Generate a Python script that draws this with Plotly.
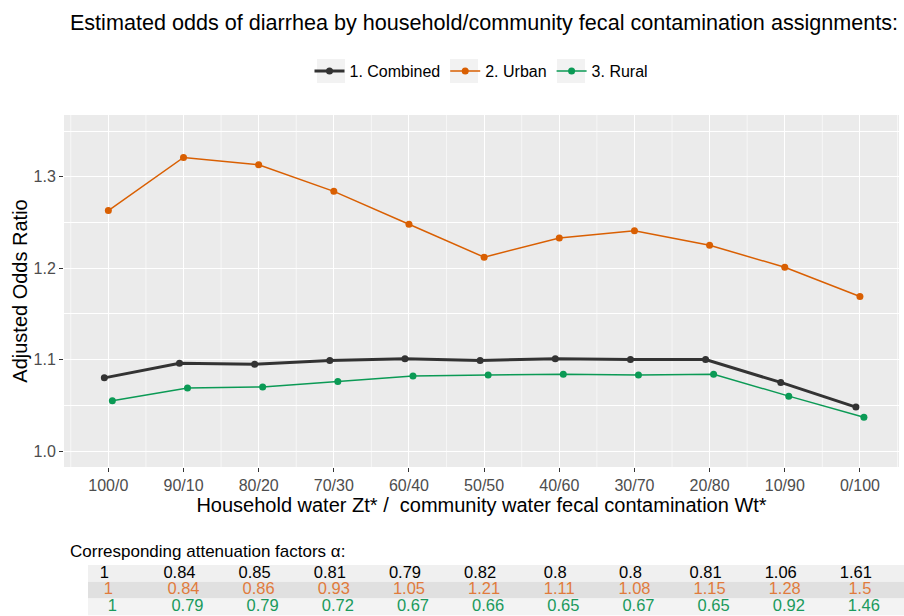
import plotly.graph_objects as go

# x categories: household / community split
SPLITS = ["100/0", "90/10", "80/20", "70/30", "60/40", "50/50",
          "40/60", "30/70", "20/80", "10/90", "0/100"]

# adjusted odds ratios
OR_COMBINED = [1.080, 1.096, 1.095, 1.099, 1.101, 1.099, 1.101, 1.100, 1.100, 1.075, 1.048]
OR_URBAN = [1.263, 1.321, 1.313, 1.284, 1.248, 1.212, 1.233, 1.241, 1.225, 1.201, 1.169]
OR_RURAL = [1.055, 1.069, 1.070, 1.076, 1.082, 1.083, 1.084, 1.083, 1.084, 1.060, 1.037]

# attenuation factors (table under the chart)
ALPHA_COMBINED = ["1", "0.84", "0.85", "0.81", "0.79", "0.82", "0.8", "0.8", "0.81", "1.06", "1.61"]
ALPHA_URBAN = ["1", "0.84", "0.86", "0.93", "1.05", "1.21", "1.11", "1.08", "1.15", "1.28", "1.5"]
ALPHA_RURAL = ["1", "0.79", "0.79", "0.72", "0.67", "0.66", "0.65", "0.67", "0.65", "0.92", "1.46"]

SERIES = [
    ("1. Combined", OR_COMBINED, ALPHA_COMBINED, "#333333", 3.0, "#000000"),
    ("2. Urban", OR_URBAN, ALPHA_URBAN, "#d95f02", 1.5, "#e07b3c"),
    ("3. Rural", OR_RURAL, ALPHA_RURAL, "#0b9a55", 1.5, "#1a9a5c"),
]

FONT = "Liberation Sans, Arial, sans-serif"
TICK = "#4d4d4d"
PANEL = "#ebebeb"
ROW_FILLS = ["#f0f0f0", "#e0e0e0", "#f3f3f3"]

W, H = 904, 616
M = dict(l=64, r=5, t=115, b=0)
plot_w = W - M["l"] - M["r"]
plot_h = H - M["t"] - M["b"]
X_RANGE = [-0.59, 10.52]

fig = go.Figure()

for i, (name, ors, alphas, color, width, tcolor) in enumerate(SERIES):
    fig.add_trace(go.Scatter(
        x=SPLITS, y=ors, name=name, mode="lines+markers",
        line=dict(color=color, width=width),
        marker=dict(color=color, size=7),
        offsetgroup=str(i),
    ))
    # table row for this series
    fig.add_trace(go.Scatter(
        x=SPLITS, y=[i + 1] * len(SPLITS), text=alphas, mode="text",
        textfont=dict(family=FONT, size=16.5, color=tcolor),
        xaxis="x2", yaxis="y2", showlegend=False, hoverinfo="skip",
    ))

# panel background
shapes = [dict(type="rect", xref="x domain", yref="y domain", x0=0, x1=1, y0=0, y1=1,
               fillcolor=PANEL, line=dict(width=0), layer="below")]
# minor vertical grid between categories
for k in range(len(SPLITS) + 1):
    shapes.append(dict(type="line", xref="x", yref="y domain", x0=k - 0.5, x1=k - 0.5,
                       y0=0, y1=1, line=dict(color="white", width=0.6), layer="below"))
# table row bands
for k, fill in enumerate(ROW_FILLS):
    shapes.append(dict(type="rect", xref="paper", yref="y2",
                       x0=(88 - M["l"]) / plot_w, x1=1.01,
                       y0=k + 0.5, y1=k + 1.5, fillcolor=fill,
                       line=dict(width=0), layer="below"))
# grey key boxes behind the legend symbols (ggplot style)
for cx in (331, 464, 571):
    shapes.append(dict(type="rect", xref="paper", yref="paper",
                       x0=(cx - 14 - M["l"]) / plot_w, x1=(cx + 14 - M["l"]) / plot_w,
                       y0=(H - 83) / plot_h, y1=(H - 59) / plot_h,
                       fillcolor="#f2f2f2", line=dict(width=0), layer="below"))

y_dom0 = (H - M["b"] - 467) / plot_h
tbl_top = (H - M["b"] - 565) / plot_h

fig.update_layout(
    width=W, height=H, margin=dict(M, autoexpand=False),
    paper_bgcolor="white", plot_bgcolor="rgba(0,0,0,0)",
    font=dict(family=FONT, size=16, color="#000000"),
    title=dict(text="Estimated odds of diarrhea by household/community fecal contamination assignments:",
               xref="container", x=484 / W, xanchor="center",
               yref="container", y=1 - 22 / H, yanchor="middle",
               font=dict(family=FONT, size=21.6, color="#000000")),
    scattermode="group", scattergap=0.84,
    legend=dict(orientation="h", xref="paper", x=0.5, xanchor="center",
                yref="container", y=1 - 71 / H, yanchor="middle",
                font=dict(family=FONT, size=16, color="#000000"),
                bgcolor="rgba(0,0,0,0)", itemwidth=30, tracegroupgap=0),
    xaxis=dict(type="category", range=X_RANGE, domain=[0, 1], anchor="y",
               showgrid=True, gridcolor="white", gridwidth=1.2,
               ticks="outside", ticklen=4, tickcolor="#333333",
               tickfont=dict(family=FONT, size=16, color=TICK),
               showline=False, zeroline=False, automargin=False,
               title=dict(text="Household water Zt*\u00a0/\u00a0 community water fecal contamination Wt*",
                          font=dict(family=FONT, size=20, color="#000000"), standoff=4)),
    yaxis=dict(domain=[y_dom0, 1], range=[0.9825, 1.3675], anchor="x",
               dtick=0.1, tick0=1.0, tickformat=".1f",
               showgrid=True, gridcolor="white", gridwidth=1.2,
               minor=dict(dtick=0.05, tick0=1.0, showgrid=True, gridcolor="white", gridwidth=0.6),
               ticks="outside", ticklen=4, tickcolor="#333333",
               tickfont=dict(family=FONT, size=16, color=TICK),
               showline=False, zeroline=False, automargin=False,
               title=dict(text="Adjusted Odds Ratio",
                          font=dict(family=FONT, size=20, color="#000000"), standoff=0)),
    xaxis2=dict(type="category", range=X_RANGE, domain=[0, 1], anchor="y2",
                visible=False, showgrid=False),
    yaxis2=dict(domain=[0, tbl_top], range=[3.55, 0.5], anchor="x2",
                visible=False, showgrid=False),
    shapes=shapes,
    annotations=[dict(text="Corresponding attenuation factors \u03b1:", showarrow=False,
                      xref="paper", x=(68 - M["l"]) / plot_w, xanchor="left",
                      yref="paper", y=(H - M["b"] - 551) / plot_h, yanchor="middle",
                      font=dict(family=FONT, size=17, color="#000000"))],
)

# drop the default page margin so the figure sits at the window's corner
fig.write_html("out.html", config={"displayModeBar": False},
               post_script="document.body.style.margin='0';")
